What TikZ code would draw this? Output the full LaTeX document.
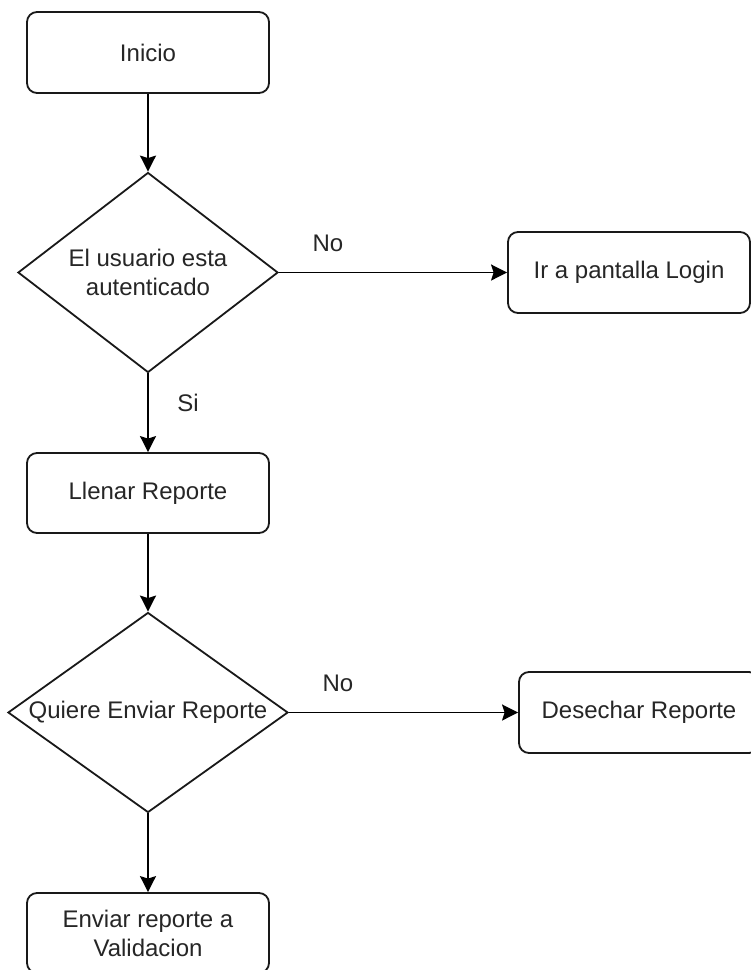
\documentclass[tikz,border=0pt]{standalone}
\usepackage{fontspec}
\setmainfont{Liberation Sans}
\usetikzlibrary{shapes.geometric,arrows.meta}

\tikzset{
  every node/.style={text=black!85, font=\fontsize{24}{29}\selectfont},
  stepbox/.style={draw=black!90, line width=1.8pt, rounded corners=10pt,
    minimum width=242pt, minimum height=81pt, inner sep=0pt, align=center},
  decision/.style={draw=black!90, line width=1.8pt, diamond, aspect=1.4,
    inner sep=0pt, align=center},
  flow/.style={draw=black, line width=1.8pt,
    -{Stealth[length=16pt,width=16pt,inset=2.5pt]}},
  tag/.style={inner sep=0pt}
}

\begin{document}
\begin{tikzpicture}[x=1pt, y=-1pt]
  % canvas
  \fill[white] (0,0) rectangle (751,970);
  \useasboundingbox (0,0) rectangle (751,970);

  % process steps and decisions
  \node[stepbox] (inicio) at (148,52.5) {Inicio};
  \node[decision, minimum width=260pt, minimum height=200pt] (auth) at (148,272.5)
    {El usuario esta\\autenticado};
  \node[stepbox] (login) at (629,272.5) {Ir a pantalla Login};
  \node[stepbox, minimum height=80pt] (llenar) at (148,493) {Llenar Reporte};
  \node[decision, minimum width=280pt, minimum height=200pt] (enviarq) at (148,712.5)
    {Quiere Enviar Reporte};
  \node[stepbox, minimum width=240pt] (desechar) at (639,712.5) {Desechar Reporte};
  \node[stepbox, minimum height=80pt] (validar) at (148,933)
    {Enviar reporte a\\Validacion};

  % connectors
  \draw[flow] (inicio) -- (auth);
  \draw[flow] (auth.east) -- (login.west);
  \draw[flow] (auth.south) -- (llenar.north);
  \draw[flow] (llenar) -- (enviarq);
  \draw[flow] (enviarq.east) -- (desechar.west);
  \draw[flow] (enviarq.south) -- (validar.north);

  % branch labels
  \node[tag] (no1) at (328,243) {No};
  \node[tag] (si)  at (188,403) {Si};
  \node[tag] (no2) at (338,683) {No};
\end{tikzpicture}
\end{document}
